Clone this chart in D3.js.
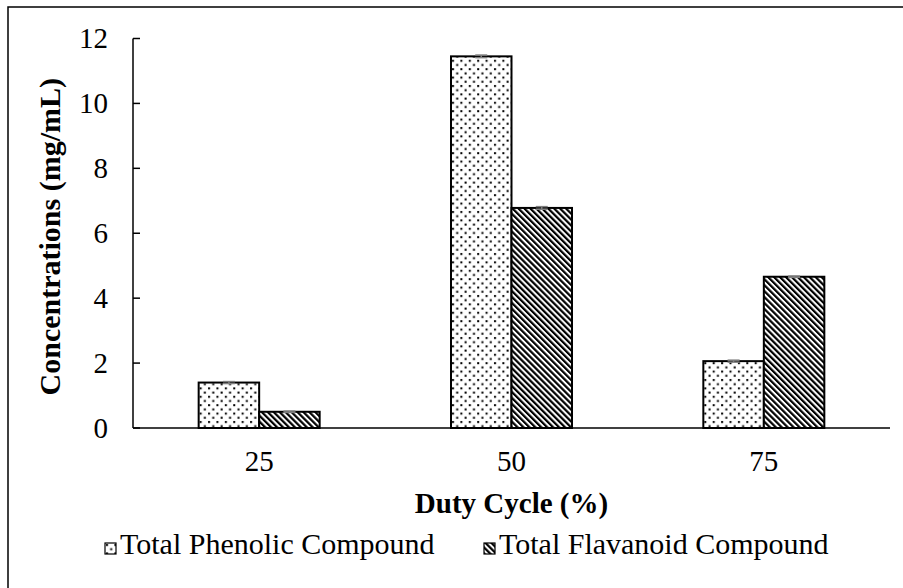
<!DOCTYPE html>
<html>
<head>
<meta charset="utf-8">
<script src="https://cdn.jsdelivr.net/npm/d3@7"></script>
<style>
  body { margin: 0; background: #fff; }
  svg text { font-family: "Liberation Serif", "Times New Roman", serif; fill: #000; }
</style>
</head>
<body>
<div id="chart"></div>
<script>
// chart data
const categories = ['25', '50', '75'];
const seriesNames = ['Total Phenolic Compound', 'Total Flavanoid Compound'];
const phenolic = [1.40, 11.45, 2.06];
const flavanoid = [0.50, 6.78, 4.66];
const phenolicErr = [0.03, 0.04, 0.03];
const flavanoidErr = [0.02, 0.04, 0.02];
const yTicks = [0, 2, 4, 6, 8, 10, 12];

const width = 903, height = 588;
const plot = { left: 133, right: 890, top: 38.5, bottom: 428 };

const svg = d3.select('#chart')
    .append('svg')
    .attr('width', width)
    .attr('height', height);

// Patterns: dotted for phenolic, diagonal stripes for flavanoid
const defs = svg.append('defs');

const dots = defs.append('pattern')
    .attr('id', 'dots')
    .attr('patternUnits', 'userSpaceOnUse')
    .attr('width', 8.4)
    .attr('height', 8.4);
dots.append('rect').attr('width', 8.4).attr('height', 8.4).attr('fill', '#fff');
dots.append('rect').attr('x', 1).attr('y', 1).attr('width', 2).attr('height', 2).attr('fill', '#000');
dots.append('rect').attr('x', 5.2).attr('y', 5.2).attr('width', 2).attr('height', 2).attr('fill', '#000');

const stripes = defs.append('pattern')
    .attr('id', 'stripes')
    .attr('patternUnits', 'userSpaceOnUse')
    .attr('width', 4.2)
    .attr('height', 4.2)
    .attr('patternTransform', 'rotate(-45)');
stripes.append('rect').attr('width', 4.2).attr('height', 4.2).attr('fill', '#fff');
stripes.append('rect').attr('width', 2.2).attr('height', 4.2).attr('fill', '#000');

const fills = ['url(#dots)', 'url(#stripes)'];

// Outer chart border (runs past the right and bottom edges)
svg.append('rect')
    .attr('x', 8).attr('y', 7)
    .attr('width', 1000).attr('height', 1000)
    .attr('fill', 'none')
    .attr('stroke', '#000')
    .attr('stroke-width', 1.5);

// Scales
const x0 = d3.scaleBand()
    .domain(categories)
    .range([plot.left, plot.right]);

const x1 = d3.scaleBand()
    .domain(seriesNames)
    .range([0, 121]);

const y = d3.scaleLinear()
    .domain([0, 12])
    .range([plot.bottom, plot.top]);

// Bars
const rows = categories.map((c, i) => ({
    cat: c,
    values: [
        { name: seriesNames[0], v: phenolic[i], e: phenolicErr[i], k: 0 },
        { name: seriesNames[1], v: flavanoid[i], e: flavanoidErr[i], k: 1 }
    ]
}));

const groups = svg.append('g').selectAll('g')
    .data(rows)
    .enter()
    .append('g')
    .attr('transform', d => `translate(${x0(d.cat) + (x0.bandwidth() - 121) / 2},0)`);

groups.selectAll('rect')
    .data(d => d.values)
    .enter()
    .append('rect')
    .attr('x', d => x1(d.name))
    .attr('y', d => y(d.v))
    .attr('width', x1.bandwidth())
    .attr('height', d => y(0) - y(d.v))
    .attr('fill', d => fills[d.k])
    .attr('stroke', '#000')
    .attr('stroke-width', 2);

// Error bars (small gray caps)
groups.selectAll('g.err')
    .data(d => d.values)
    .enter()
    .append('g')
    .attr('class', 'err')
    .each(function(d) {
        const g = d3.select(this);
        const cx = x1(d.name) + x1.bandwidth() / 2;
        g.append('line')
            .attr('x1', cx).attr('x2', cx)
            .attr('y1', y(d.v + d.e)).attr('y2', y(d.v - d.e))
            .attr('stroke', '#7f7f7f').attr('stroke-width', 1.5);
        [d.v + d.e, d.v - d.e].forEach(val => {
            g.append('line')
                .attr('x1', cx - 6).attr('x2', cx + 6)
                .attr('y1', y(val)).attr('y2', y(val))
                .attr('stroke', '#7f7f7f').attr('stroke-width', 1.5);
        });
    });

// Y axis: inward ticks
const yAxis = svg.append('g')
    .attr('transform', `translate(${plot.left},0)`);
yAxis.append('line')
    .attr('x1', 0).attr('x2', 0)
    .attr('y1', y(12)).attr('y2', y(0))
    .attr('stroke', '#000').attr('stroke-width', 1.5);
yAxis.selectAll('line.tick')
    .data(yTicks)
    .enter()
    .append('line')
    .attr('class', 'tick')
    .attr('x1', 0).attr('x2', 7)
    .attr('y1', d => y(d)).attr('y2', d => y(d))
    .attr('stroke', '#000').attr('stroke-width', 1.5);
yAxis.selectAll('text')
    .data(yTicks)
    .enter()
    .append('text')
    .attr('x', -25)
    .attr('y', d => y(d))
    .attr('dy', '0.33em')
    .attr('text-anchor', 'end')
    .attr('font-size', '29px')
    .text(d => d);

// X axis
svg.append('line')
    .attr('x1', plot.left).attr('x2', plot.right)
    .attr('y1', y(0)).attr('y2', y(0))
    .attr('stroke', '#000').attr('stroke-width', 1.5);
svg.append('g').selectAll('text')
    .data(categories)
    .enter()
    .append('text')
    .attr('x', d => x0(d) + x0.bandwidth() / 2)
    .attr('y', 471)
    .attr('text-anchor', 'middle')
    .attr('font-size', '29px')
    .text(d => d);

// Axis titles
svg.append('text')
    .attr('x', 511.5)
    .attr('y', 513)
    .attr('text-anchor', 'middle')
    .attr('font-size', '29px')
    .attr('font-weight', 'bold')
    .text('Duty Cycle (%)');

svg.append('text')
    .attr('transform', 'translate(60,78) rotate(-90)')
    .attr('text-anchor', 'end')
    .attr('font-size', '30px')
    .attr('font-weight', 'bold')
    .text('Concentrations (mg/mL)');

// Legend
const legendX = [105, 484];
const legend = svg.append('g').selectAll('g')
    .data(seriesNames)
    .enter()
    .append('g')
    .attr('transform', (d, i) => `translate(${legendX[i]},543)`);
legend.append('rect')
    .attr('width', 11).attr('height', 11)
    .attr('fill', (d, i) => fills[i])
    .attr('stroke', '#000')
    .attr('stroke-width', 1.2);
legend.append('text')
    .attr('x', 15)
    .attr('y', 11)
    .attr('font-size', '30px')
    .text(d => d);
</script>
</body>
</html>
